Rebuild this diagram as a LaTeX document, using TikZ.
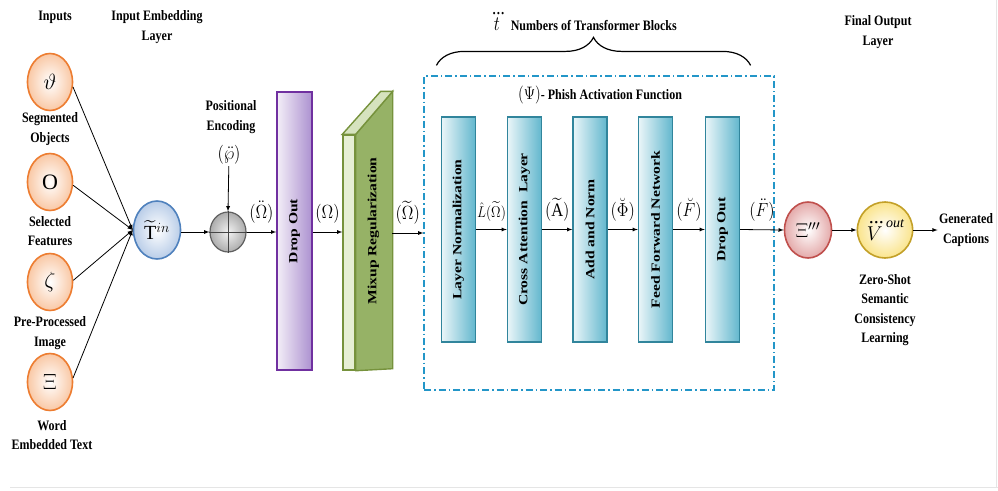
\RequirePackage{fix-cm}
\documentclass[tikz,border=0pt]{standalone}
\usepackage{amsmath}
\usepackage{fontspec}
\setmainfont{Liberation Serif}
\usepackage{tikz}
\usetikzlibrary{shapes, arrows, positioning, calc, decorations.pathreplacing}

\definecolor{inorange}{RGB}{237,125,49}
\definecolor{inorangefill}{RGB}{249,200,165}
\definecolor{tinblue}{RGB}{79,129,189}
\definecolor{tinfill}{RGB}{185,205,232}
\definecolor{dropline}{RGB}{112,48,160}
\definecolor{dropfill}{RGB}{172,145,208}
\definecolor{mixline}{RGB}{118,146,60}
\definecolor{mixdark}{RGB}{150,178,102}
\definecolor{mixlight}{RGB}{230,239,212}
\definecolor{tealline}{RGB}{49,133,156}
\definecolor{tealfill}{RGB}{80,175,200}
\definecolor{frameblue}{RGB}{35,150,200}
\definecolor{outred}{RGB}{192,80,77}
\definecolor{outredfill}{RGB}{228,170,170}
\definecolor{outgold}{RGB}{195,160,40}
\definecolor{outgoldfill}{RGB}{250,228,140}

\tikzstyle{inputnode} = [ellipse, draw=inorange, line width=1.6pt, inner color=white, outer color=inorangefill, minimum width=45pt, minimum height=57pt, inner sep=0pt, font=\fontsize{22}{24}\selectfont]
\tikzstyle{txt} = [yscale=1.2, align=center, font=\bfseries\fontsize{12}{16}\selectfont, inner sep=1pt]
\tikzstyle{mlabel} = [yscale=1.15, font=\fontsize{16.5}{18}\selectfont, inner sep=1pt]
\tikzstyle{rottxt} = [yscale=1.25, rotate=90, font=\bfseries\fontsize{12.5}{14}\selectfont, inner sep=0pt]
\tikzstyle{tblock} = [draw=tealline, line width=1.4pt, left color=tealfill!12, right color=tealfill!90, minimum width=34pt, minimum height=225pt]

\begin{document}
\begin{tikzpicture}[x=1pt, y=-1pt, thick, >=latex]
		\useasboundingbox (0,0) rectangle (998,490);
		\draw[gray!20] (10,487) -- (998,487);
		\draw[gray!20] (996.5,0) -- (996.5,487);

		\coordinate (mixout) at (392,233);

		% inputs
		\node[txt] (inputs) at (55,17) {Inputs};
		\node[inputnode] (obj)  at (50,82)  {$\vartheta$};
		\node[inputnode] (feat) at (50,182) {$\mathrm{O}$};
		\node[inputnode] (img)  at (50,282) {$\zeta$};
		\node[inputnode] (word) at (50,382) {$\Xi$};
		\node[txt] (objtxt)  at (50,129) {Segmented\\Objects};
		\node[txt] (feattxt) at (50,231) {Selected\\Features};
		\node[txt] (imgtxt)  at (50,333) {Pre-Processed\\Image};
		\node[txt] (wordtxt) at (52,435) {Word\\Embedded Text};

		% embedding
		\node[txt] (embtxt) at (157,27) {Input Embedding\\Layer};
		\node[ellipse, draw=tinblue, line width=1.6pt, inner color=white, outer color=tinfill, minimum width=47pt, minimum height=58pt, inner sep=0pt, font=\fontsize{20}{22}\selectfont] (tin) at (157,230) {$\widetilde{\mathrm{T}}^{in}$};
		\node[ellipse, draw=gray!75!black, line width=1.2pt, inner color=gray!10, outer color=gray!65, minimum width=36pt, minimum height=40pt] (plus) at (228,232) {};
		\draw[gray!55!black, line width=0.8pt] (plus.north) -- (plus.south);
		\draw[gray!55!black, line width=0.8pt] (plus.west) -- (plus.east);
		\node[txt] (postxt) at (231,117) {Positional\\Encoding};
		\node[mlabel] (penc) at (229,155) {$(\ddot{\wp})$};

		% drop out and mixup
		\node[draw=dropline, line width=1.6pt, left color=dropline!8, right color=dropfill, minimum width=35pt, minimum height=278pt] (drop1) at (294.5,231) {};
		\node[rottxt] (drop1txt) at (drop1) {Drop Out};
		\node[draw=mixline, line width=1.4pt, fill=mixlight, minimum width=12pt, minimum height=235pt, inner sep=0pt] (mixfront) at (349,252.5) {};
		\draw[mixline, line width=1.4pt, fill=mixdark] (mixfront.north east) -- ++(37,-43) -- ($(mixfront.south east)+(37,-2)$) -- (mixfront.south east) -- cycle;
		\draw[mixline, line width=1.4pt, fill=mixlight!80!mixdark] (mixfront.north west) -- (mixfront.north east) -- ++(37,-43) -- ++(-12,0) -- cycle;
		\node[rottxt] (mixtxt) at (373.5,231) {Mixup Regularization};

		% transformer blocks
		\node[draw=frameblue, line width=1.2pt, dash pattern=on 7pt off 3pt on 1.5pt off 3pt, minimum width=350pt, minimum height=314pt] (tfb) at (599,233) {};
		\draw[decorate, decoration={brace, amplitude=28pt}, line width=1.2pt] ($(tfb.north west)+(13,-10)$) -- ($(tfb.north east)+(-24,-10)$);
		\node[txt] (tfbtxt) at (583,22) {{\fontsize{17}{19}\selectfont$\dddot{t}$}\ \ Numbers of Transformer Blocks};
		\node[txt] (phish) at (600,95) {{\mdseries\fontsize{15}{17}\selectfont$(\Psi)$}- Phish Activation Function};

		\node[tblock] (ln)  at (458.5,229.5) {};
		\node[tblock] (ca)  at (524.5,229.5) {};
		\node[tblock] (an)  at (590,229.5) {};
		\node[tblock] (ff)  at (655.5,229.5) {};
		\node[tblock] (do2) at (722.5,229.5) {};
		\node[rottxt] (lntxt)  at (ln)  {Layer Normalization};
		\node[rottxt] (catxt)  at (ca)  {Cross Attention\ \ Layer};
		\node[rottxt] (antxt)  at (an)  {Add and Norm};
		\node[rottxt] (fftxt)  at (ff)  {Feed Forward Network};
		\node[rottxt] (do2txt) at (do2) {Drop Out};

		% output layer
		\node[txt] (fintxt) at (878,32) {Final Output\\Layer};
		\node[ellipse, draw=outred, line width=1.6pt, inner color=white, outer color=outredfill, minimum width=47pt, minimum height=56pt, inner sep=0pt, font=\fontsize{20}{22}\selectfont] (xi) at (808,230) {$\Xi'''$};
		\node[ellipse, draw=outgold, line width=1.6pt, inner color=white, outer color=outgoldfill, minimum width=47pt, minimum height=56pt, inner sep=0pt, font=\fontsize{20}{22}\selectfont] (vout) at (885,230) {$\dddot{V}^{\,\mathit{out}}$};
		\node[txt] (zstxt) at (885,310) {Zero-Shot\\Semantic\\Consistency\\Learning};
		\node[txt] (gen) at (966,230) {Generated\\Captions};

		% connectors
		\draw[->] (obj.-12) -- (tin.west);
		\draw[->] (feat.-8) -- (tin.west);
		\draw[->] (img.4) -- (tin.west);
		\draw[->] (word.10) -- (tin.west);
		\draw[->] (tin.east |- plus.west) -- (plus.west);
		\draw[->] (penc) -- (plus.north);
		\draw[->] (plus.east) -- node[mlabel, above=7pt]{$(\ddot{\Omega})$} (plus.east -| drop1.west);
		\draw[->] (drop1.east |- plus.east) -- node[mlabel, above=7pt]{$(\Omega)$} (plus.east -| mixfront.west);
		\draw[->] (mixout) -- node[mlabel, above=7pt]{$(\widetilde{\Omega})$} (mixout -| tfb.west);
		\draw[->] (ln.east) -- node[mlabel, above=7pt, font=\fontsize{13.5}{15}\selectfont]{$\hat{L}(\widetilde{\Omega})$} (ca.west);
		\draw[->] (ca.east) -- node[mlabel, above=7pt]{$(\widetilde{\mathrm{A}})$} (an.west);
		\draw[->] (an.east) -- node[mlabel, above=7pt]{$(\breve{\Phi})$} (ff.west);
		\draw[->] (ff.east) -- node[mlabel, above=7pt]{$(\breve{F})$} (do2.west);
		\draw[->] (do2.east) -- node[mlabel, above=7pt]{$(\ddot{F})$} (xi.west);
		\draw[->] (xi.east) -- (vout.west);
		\draw[->] (vout.east) -- (gen.west);

	\end{tikzpicture}
\end{document}
